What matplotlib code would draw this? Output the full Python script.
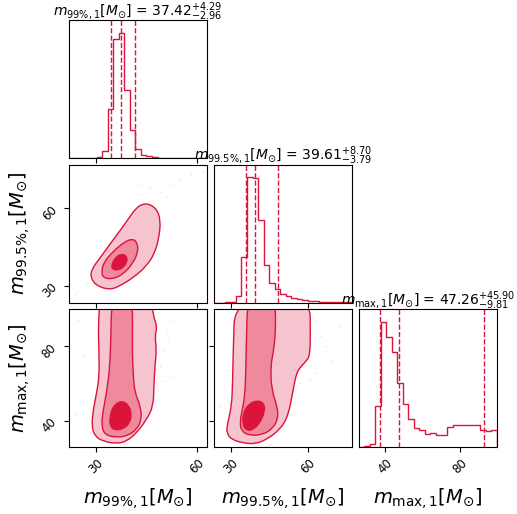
"""
Corner plot of the mass posteriors (m99%, m99.5%, m_max).
Values read off the reference picture.
"""

import matplotlib
matplotlib.use("Agg")
import matplotlib.pyplot as plt
import numpy as np

from matplotlib.patches import PathPatch
from matplotlib.path import Path

COLOR = "crimson"
FILL_OUTER = "#F6C4CE"   # crimson at alpha .25 over white
FILL_MID = "#EE899E"     # crimson at alpha .5
FILL_IN = "crimson"

LABELS = [
    r"$m_{99\%,1}[M_{\odot}]$",
    r"$m_{99.5\%,1}[M_{\odot}]$",
    r"$m_{\max,1}[M_{\odot}]$",
]

# 16/50/84 quantiles: median, +err, -err
MEDIANS = [37.42, 39.61, 47.26]
ERR_UP = [4.29, 8.70, 45.90]
ERR_DN = [2.96, 3.79, 9.81]

# axis ranges and ticks
RANGES = [(22.1, 63.2), (23.5, 77.0), (25.7, 100.0)]
TICKS = [[30, 60], [30, 60], [40, 80]]

# 1-d histograms, 25 bins across each range (relative heights)
HIST_M99 = [0, 0, 0, 0, 0.3, 0.5, 5.4, 39.5, 95, 100, 54, 22, 7.3, 2.7, 1.9,
            0.5, 0.3, 0.3, 0.2, 0.2, 0, 0, 0, 0, 0]
HIST_M995 = [0, 0, 0.2, 0.5, 5.3, 36.6, 100, 99, 65.5, 30, 15.4, 10.6, 6.6,
             5.3, 3.4, 2.7, 1.9, 1.3, 1.1, 0.9, 0.8, 0.7, 0.6, 0.5, 0.5]
HIST_MMAX = [0, 1.3, 2.7, 33, 100, 88, 76, 51, 34.5, 22.6, 15.4, 13.3, 10.6,
             11.4, 10.1, 10.1, 16, 17.5, 18, 18, 17.5, 17.5, 14, 12.5, 14]
HISTS = [HIST_M99, HIST_M995, HIST_MMAX]

# 2-d credible contours (x, y) - outer, middle, inner
# m99 vs m99.5
C10_OUTER = [(34.26, 28.46), (30.30, 30.0), (28.51, 33.18), (28.81, 36.38),
             (31.29, 40.85), (35.25, 47.87), (39.21, 54.89), (42.18, 60.64),
             (45.15, 62.17), (48.12, 60.0), (49.31, 55.53), (48.91, 49.15),
             (47.62, 42.76), (45.15, 37.65), (41.19, 33.18), (37.23, 30.0)]
C10_MID = [(31.78, 35.10), (32.28, 38.93), (35.25, 43.40), (38.71, 47.23),
           (41.19, 48.25), (42.38, 46.59), (42.67, 43.40), (41.19, 38.93),
           (38.22, 34.46), (34.75, 32.54), (32.28, 33.18)]
C10_IN = [(34.75, 37.91), (35.74, 40.85), (37.72, 42.50), (39.21, 41.48),
          (39.41, 39.57), (38.22, 37.01), (36.24, 35.99), (34.95, 36.63)]

# m99 vs m_max
C20_OUTER = [(31.3, 106.0), (30.79, 90.76), (30.99, 78.21), (31.09, 63.85),
             (30.30, 54.88), (29.31, 45.91), (28.81, 36.94), (29.80, 31.56),
             (32.28, 28.87), (36.24, 27.61), (39.21, 28.87), (42.18, 33.35),
             (45.15, 40.53), (47.13, 47.71), (47.33, 58.47), (47.62, 69.24),
             (48.12, 78.21), (47.62, 85.38), (48.32, 90.76), (47.13, 96.15),
             (46.6, 106.0)]
C20_MID = [(34.8, 106.0), (34.55, 87.18), (34.26, 69.24), (33.27, 54.88),
           (32.08, 44.12), (31.78, 36.94), (32.77, 32.46), (35.74, 31.02),
           (39.21, 31.56), (42.18, 35.15), (43.66, 40.53), (43.37, 47.71),
           (41.68, 54.88), (41.19, 63.85), (40.89, 78.21), (40.99, 90.76),
           (40.89, 106.0)]
C20_IN = [(34.26, 42.33), (35.25, 48.07), (37.72, 50.76), (39.70, 48.61),
          (40.69, 44.12), (40.20, 38.74), (38.22, 35.51), (35.74, 34.79),
          (34.26, 36.94)]

# m99.5 vs m_max
C21_OUTER = [(31.7, 106.0), (31.03, 78.21), (30.77, 60.27), (30.39, 47.71),
             (28.71, 37.84), (28.45, 33.35), (30.39, 29.77), (34.89, 27.97),
             (39.40, 27.44), (43.91, 29.77), (49.06, 35.15), (52.28, 42.33),
             (54.21, 56.68), (55.50, 65.65), (56.79, 68.34), (59.11, 71.93),
             (60.65, 74.62), (60.91, 87.18), (60.65, 106.0)]
C21_MID = [(36.6, 106.0), (36.18, 87.18), (35.92, 69.24), (35.54, 53.09),
           (34.25, 44.12), (33.61, 38.74), (34.25, 34.25), (37.47, 31.92),
           (42.62, 32.46), (46.49, 36.05), (48.42, 41.43), (48.03, 47.71),
           (45.84, 56.68), (45.46, 69.24), (46.74, 78.21), (47.52, 90.76),
           (47.1, 106.0)]
C21_IN = [(34.89, 44.12), (36.83, 48.61), (40.05, 50.94), (42.88, 49.50),
          (43.27, 45.02), (41.33, 38.74), (38.76, 35.15), (36.18, 34.61),
          (34.64, 37.84)]

# stray samples outside the outer contour
PTS10 = [(58.5, 73.4), (62.0, 74.7), (55.0, 70.9), (53.1, 68.9), (46.1, 68.3),
         (43.6, 65.7), (49.1, 66.4), (42.7, 68.9), (24.4, 28.1), (23.9, 26.8),
         (27.3, 31.3), (51.1, 64.5)]
PTS20 = [(53.1, 94.4), (51.1, 89.0), (51.6, 82.7), (50.1, 78.2), (49.1, 69.2),
         (48.1, 67.4), (50.6, 61.2), (24.9, 94.4), (26.3, 75.5), (23.9, 43.2),
         (28.3, 33.4), (53.1, 63.9)]
PTS21 = [(62.6, 94.4), (64.5, 85.4), (67.1, 80.0), (69.0, 72.8), (72.2, 90.8),
         (63.2, 65.6), (60.7, 62.1), (56.8, 60.3), (29.1, 67.4), (25.9, 47.7)]

CONTOURS = {
    (1, 0): (C10_OUTER, C10_MID, C10_IN, PTS10),
    (2, 0): (C20_OUTER, C20_MID, C20_IN, PTS20),
    (2, 1): (C21_OUTER, C21_MID, C21_IN, PTS21),
}


def smooth_patch(poly, **kw):
    # closed outline drawn with quadratic curves, vertices as control points
    p = np.asarray(poly, dtype=float)
    mids = 0.5 * (p + np.roll(p, -1, axis=0))
    verts = [mids[-1]]
    codes = [Path.MOVETO]
    for k in range(len(p)):
        verts += [p[k], mids[k]]
        codes += [Path.CURVE3, Path.CURVE3]
    verts.append(mids[-1])
    codes.append(Path.CLOSEPOLY)
    return PathPatch(Path(verts, codes), **kw)


fig, axes = plt.subplots(3, 3, figsize=(5.17, 5.14), dpi=100)
fig.subplots_adjust(left=0.1335, right=0.961, bottom=0.130, top=0.961,
                    wspace=0.047, hspace=0.047)

K = 3
for i in range(K):
    for j in range(K):
        ax = axes[i, j]
        if j > i:
            ax.set_axis_off()
            continue

        if i == j:
            # 1-d histogram
            counts = np.array(HISTS[i])
            edges = np.linspace(RANGES[i][0], RANGES[i][1], len(counts) + 1)
            ax.stairs(counts, edges, color=COLOR, lw=1)
            for q in (MEDIANS[i] - ERR_DN[i], MEDIANS[i], MEDIANS[i] + ERR_UP[i]):
                ax.axvline(q, ls="dashed", color=COLOR, lw=1)
            ax.set_ylim(0, 1.1 * counts.max())
            ax.set_yticks([])
            title = (LABELS[i] + " = " +
                     r"$%.2f_{-%.2f}^{+%.2f}$" % (MEDIANS[i], ERR_DN[i], ERR_UP[i]))
            ax.set_title(title, fontsize=10, y=1.0, pad=3)
        else:
            outer, mid, inner, pts = CONTOURS[(i, j)]
            px, py = zip(*pts)
            ax.plot(px, py, "o", ms=1.3, color=COLOR, alpha=0.12, mec="none",
                    zorder=1)
            for poly, fc in ((outer, FILL_OUTER), (mid, FILL_MID), (inner, FILL_IN)):
                ax.add_patch(smooth_patch(poly, facecolor=fc, edgecolor=COLOR,
                                          lw=1, zorder=2))
            ax.set_ylim(*RANGES[i])
            ax.set_yticks(TICKS[i])

        ax.set_xlim(*RANGES[j])
        ax.set_xticks(TICKS[j])
        ax.tick_params(labelsize=8.5)

        if i < K - 1:
            ax.set_xticklabels([])
        else:
            for lab in ax.get_xticklabels():
                lab.set_rotation(45)
            ax.set_xlabel(LABELS[j], fontsize=14)
            ax.xaxis.set_label_coords(0.5, -0.28)

        if i != j:
            if j > 0:
                ax.set_yticklabels([])
            else:
                for lab in ax.get_yticklabels():
                    lab.set_rotation(45)
                ax.set_ylabel(LABELS[i], fontsize=14)
                ax.yaxis.set_label_coords(-0.27, 0.5)

plt.savefig("out.png", dpi=100)
